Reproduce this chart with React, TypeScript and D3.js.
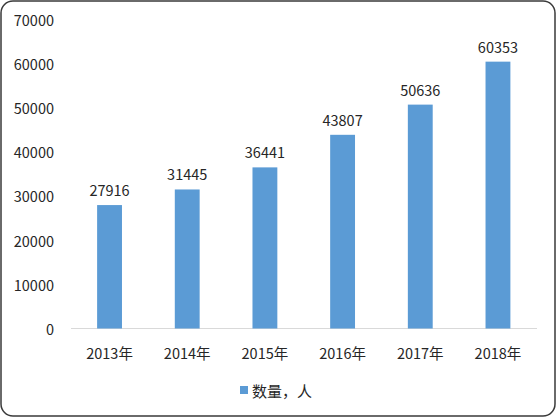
import React from 'react';
import * as d3 from 'd3';

const years = ['2013年', '2014年', '2015年', '2016年', '2017年', '2018年'];
const counts = [27916, 31445, 36441, 43807, 50636, 60353];
const yTicks = [0, 10000, 20000, 30000, 40000, 50000, 60000, 70000];
const seriesName = '数量，人';

const W = 556;
const H = 417;
const font = "'Noto Sans CJK SC', 'Noto Sans', sans-serif";
const ink = '#262626';

export default function App() {
  const x = d3.scaleBand().domain(years).range([70.7, 536.8]).paddingInner(0.68).paddingOuter(0.34);
  const y = d3.scaleLinear().domain([0, 70000]).range([328.5, 19]);

  return (
    <svg width={W} height={H} style={{ position: 'absolute', left: 0, top: 0 }}>
      <rect x={1} y={1} width={W - 2} height={H - 2} rx={12} fill="#fff" stroke="#3a3a3a" strokeWidth={1.5} />
      {yTicks.map(t => (
        <text key={t} x={54} y={y(t)} textAnchor="end" dominantBaseline="central" fontSize={14.5} fontFamily={font} fill={ink}>
          {t}
        </text>
      ))}
      <line x1={71} x2={537} y1={y(0)} y2={y(0)} stroke="#d9d9d9" strokeWidth={1} />
      {years.map((yr, i) => (
        <g key={yr}>
          <rect x={x(yr)} y={y(counts[i])} width={x.bandwidth()} height={y(0) - y(counts[i])} fill="#5b9bd5" />
          <text x={(x(yr) || 0) + x.bandwidth() / 2} y={y(counts[i]) - 9} textAnchor="middle" fontSize={14.5} fontFamily={font} fill={ink}>
            {counts[i]}
          </text>
          <text x={(x(yr) || 0) + x.bandwidth() / 2} y={352} textAnchor="middle" dominantBaseline="central" fontSize={14.5} fontFamily={font} fill={ink}>
            {yr}
          </text>
        </g>
      ))}
      <rect x={240} y={386} width={8} height={8} fill="#5b9bd5" />
      <text x={252} y={390} dominantBaseline="central" fontSize={15} fontFamily={font} fill={ink}>
        {seriesName}
      </text>
    </svg>
  );
}
